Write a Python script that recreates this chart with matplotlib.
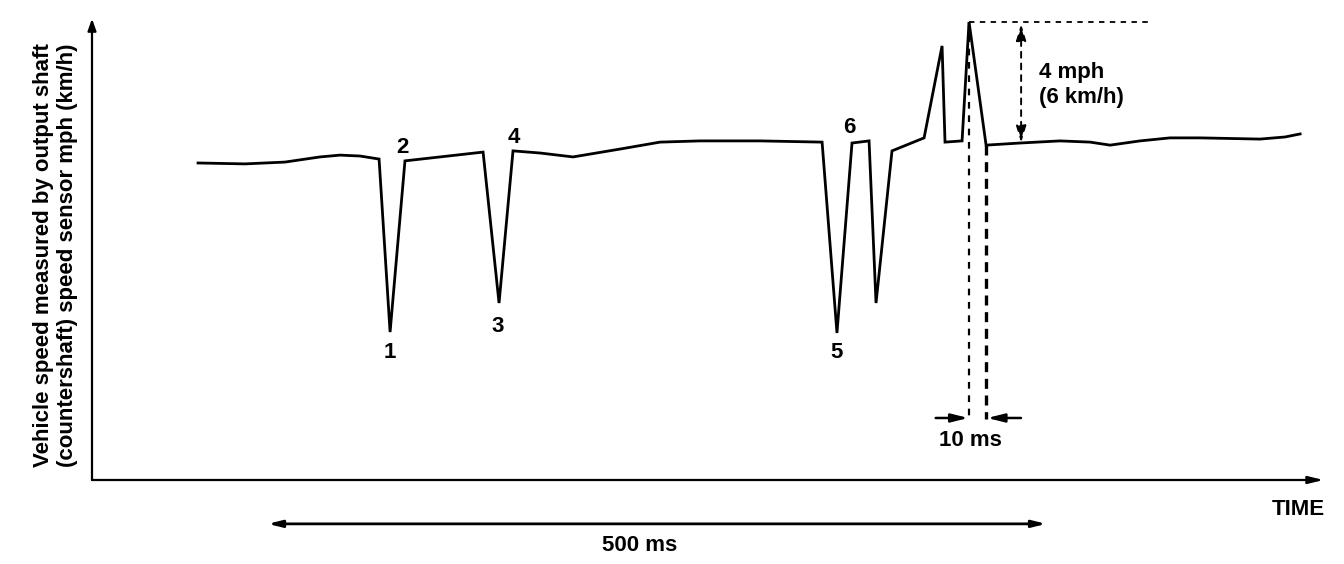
import matplotlib
matplotlib.use("Agg")
import matplotlib.pyplot as plt

plt.rcParams['font.family'] = ['Liberation Sans', 'DejaVu Sans']
plt.rcParams['font.weight'] = 'bold'

# Trace: time (ms) vs vehicle speed (mph)
time_ms = [68.4, 98.7, 124.5, 147.1, 160.0, 172.9, 185.2, 192.3, 201.9, 252.3,
           262.6, 271.6, 289.0, 310.3, 340.6, 366.5, 392.3, 431.0, 471.0, 480.6,
           490.3, 501.3, 505.8, 516.1, 536.8, 548.4, 550.3, 561.3, 565.8, 576.8,
           598.7, 624.5, 643.9, 656.8, 676.1, 695.5, 714.8, 753.5, 769.7, 779.4]
speed_mph = [10.48, 10.45, 10.51, 10.68, 10.74, 10.71, 10.61, 4.89, 10.55, 10.84,
             5.85, 10.88, 10.81, 10.68, 10.94, 11.17, 11.21, 11.21, 11.17, 4.86,
             11.14, 11.21, 5.85, 10.88, 11.31, 14.35, 11.17, 11.21, 15.14, 11.07,
             11.14, 11.21, 11.17, 11.07, 11.21, 11.31, 11.31, 11.27, 11.34, 11.44]

# numbered points
point_labels = ['1', '2', '3', '4', '5', '6']
point_t = [192.3, 200.0, 262.0, 272.3, 480.0, 488.4]
point_s = [4.21, 10.98, 5.09, 11.31, 4.21, 11.64]

span_label = '500 ms'
span_start, span_end = 113.5, 615.5
pulse_label = '10 ms'
pulse_start, pulse_end = 565.8, 576.8
delta_label = '4 mph\n(6 km/h)'
ylabel = 'Vehicle speed measured by output shaft\n(countershaft) speed sensor mph (km/h)'
xlabel = 'TIME'

fig = plt.figure(figsize=(13.44, 5.64), dpi=100)
ax = fig.add_axes([0, 0, 1, 1])
ax.set_xlim(-59.35, 807.7)
ax.set_ylim(-2.777, 15.868)
ax.axis('off')

FS = 16
lw = 2.0

# axes with arrow heads
ax.annotate('', xy=(0, 15.25), xytext=(0, 0),
            arrowprops=dict(arrowstyle='-|>,head_length=0.7,head_width=0.25', lw=1.6, color='black',
                            shrinkA=0, shrinkB=0))
ax.annotate('', xy=(794.5, 0), xytext=(0, 0),
            arrowprops=dict(arrowstyle='-|>,head_length=0.9,head_width=0.22', lw=1.6, color='black',
                            shrinkA=0, shrinkB=0))

# trace
ax.plot(time_ms, speed_mph, color='black', lw=lw, solid_joinstyle='miter')

for lab, t, s in zip(point_labels, point_t, point_s):
    ax.text(t, s, lab, ha='center', va='center', fontsize=FS, fontweight='bold')

# peak reference dashed lines
peak_t = time_ms[28]
peak_s = speed_mph[28]
base_t = time_ms[29]
base_s = speed_mph[29]
ax.plot([peak_t, 683.9], [peak_s, peak_s], ls=(0, (3, 3)), color='black', lw=1.3)
ax.plot([peak_t, peak_t], [peak_s, 2.0], ls=(0, (3, 3)), color='black', lw=1.6)
ax.plot([base_t, base_t], [base_s, 2.0], ls=(0, (3, 2)), color='black', lw=2.4)

# 4 mph dashed double arrow
xa = 599.4
ax.annotate('', xy=(xa, 15.08), xytext=(xa, 11.15),
            arrowprops=dict(arrowstyle='<|-|>,head_length=1.0,head_width=0.3', lw=1.4,
                            ls=(0, (3, 3)), color='black', shrinkA=0, shrinkB=0))
ax.text(611.0, 13.06, delta_label, ha='left', va='center', fontsize=FS, fontweight='bold',
        linespacing=1.3)

# 10 ms arrows
ya = 2.05
ax.annotate('', xy=(pulse_start - 0.5, ya), xytext=(pulse_start - 21.5, ya),
            arrowprops=dict(arrowstyle='-|>,head_length=1.0,head_width=0.25', lw=1.8, color='black',
                            shrinkA=0, shrinkB=0))
ax.annotate('', xy=(pulse_end + 0.8, ya), xytext=(pulse_end + 22.5, ya),
            arrowprops=dict(arrowstyle='-|>,head_length=1.0,head_width=0.25', lw=1.8, color='black',
                            shrinkA=0, shrinkB=0))
ax.text(566.5, 1.3, pulse_label, ha='center', va='center', fontsize=FS, fontweight='bold')

# 500 ms span
ax.annotate('', xy=(span_start, -1.45), xytext=(span_end, -1.45),
            arrowprops=dict(arrowstyle='<|-|>,head_length=0.8,head_width=0.2', lw=2.0, color='black',
                            shrinkA=0, shrinkB=0))
ax.text(353.5, -2.16, span_label, ha='center', va='center', fontsize=FS, fontweight='bold')

# labels
ax.text(778.5, -0.99, xlabel, ha='center', va='center', fontsize=FS, fontweight='bold')
ax.text(-23.5, 7.44, ylabel, ha='center', va='center', rotation=90, fontsize=FS,
        fontweight='bold', linespacing=1.2)

fig.savefig('out.png', dpi=100)
